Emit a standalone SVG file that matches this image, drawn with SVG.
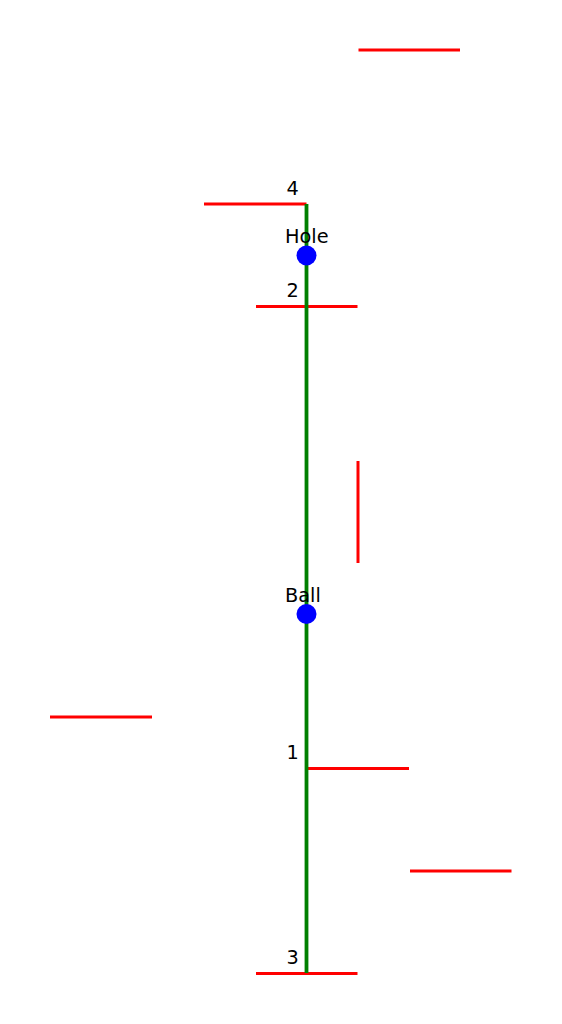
<svg xmlns="http://www.w3.org/2000/svg" width="562" height="1024" viewBox="0 0 562 1024">
<style>
.wall{stroke:#ff0000;stroke-width:3;fill:none}
.path{stroke:#008000;stroke-width:3.8;fill:none}
.pt{fill:#0000ff}
text{font-family:"DejaVu Sans",sans-serif;font-size:19.3px;fill:#000}
</style>
<rect width="562" height="1024" fill="#ffffff"/>
<g id="walls">
<line class="wall" x1="358.5" y1="50" x2="460" y2="50"/>
<line class="wall" x1="204" y1="204" x2="306.5" y2="204"/>
<line class="wall" x1="256" y1="306.5" x2="357.5" y2="306.5"/>
<line class="wall" x1="358" y1="461" x2="358" y2="563"/>
<line class="wall" x1="50" y1="717" x2="152" y2="717"/>
<line class="wall" x1="307" y1="768.5" x2="409" y2="768.5"/>
<line class="wall" x1="410" y1="871" x2="511.5" y2="871"/>
<line class="wall" x1="256" y1="973.5" x2="357.5" y2="973.5"/>
</g>
<g id="connectors">
<line class="path" x1="306.5" y1="204" x2="306.5" y2="973"/>
</g>
<g id="labels">
<text x="286.5" y="195">4</text>
<text x="286.5" y="297">2</text>
<text x="286.5" y="759">1</text>
<text x="286.5" y="964">3</text>
</g>
<g id="hole">
<circle class="pt" cx="306.5" cy="255.5" r="10"/>
<text x="285" y="243">Hole</text>
</g>
<g id="ball">
<circle class="pt" cx="306.5" cy="614" r="10"/>
<text x="285" y="602">Ball</text>
</g>
</svg>
